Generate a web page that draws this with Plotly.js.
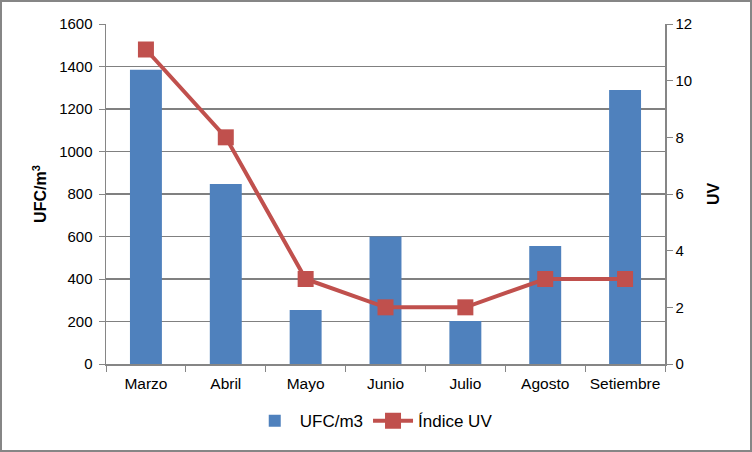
<!DOCTYPE html>
<html>
<head>
<meta charset="utf-8">
<script src="https://cdn.plot.ly/plotly-3.0.1.min.js"></script>
<style>
html,body{margin:0;padding:0;background:#fff;}
#wrap{position:relative;width:752px;height:452px;}
#chart{width:752px;height:452px;}
#frame{position:absolute;left:0;top:0;width:752px;height:452px;box-sizing:border-box;border:2px solid #868686;pointer-events:none;}
</style>
</head>
<body>
<div id="wrap"><div id="chart"></div><div id="frame"></div></div>
<script>
var months = ["Marzo","Abril","Mayo","Junio","Julio","Agosto","Setiembre"];
var ufc = [1385, 847, 254, 600, 202, 555, 1290];
var uv = [11.1, 8, 3, 2, 2, 3, 3];
var leftTicks = [0,200,400,600,800,1000,1200,1400,1600];
var rightTicks = [0,2,4,6,8,10,12];

var font = {family: "Liberation Sans, Arial, sans-serif", size: 15, color: "#000"};

var traces = [
  {type: "bar", x: months, y: ufc, name: "UFC/m3", marker: {color: "#4F81BD"}, yaxis: "y"},
  {type: "scatter", mode: "lines+markers", x: months, y: uv, name: "Índice UV", yaxis: "y2",
   line: {color: "#C0504D", width: 4}, marker: {symbol: "square", size: 16, color: "#C0504D"}}
];

var layout = {
  width: 752, height: 452,
  margin: {l: 106, r: 87, t: 24, b: 88},
  paper_bgcolor: "#fff", plot_bgcolor: "#fff",
  font: font,
  bargap: 0.6,
  showlegend: true,
  legend: {orientation: "h", xref: "container", yref: "container", x: 0.497, xanchor: "center",
           y: 0.068, yanchor: "middle", font: {family: font.family, size: 17}, traceorder: "normal",
           itemwidth: 40},
  xaxis: {type: "category", showline: true, linecolor: "#868686", linewidth: 1.5,
          ticks: "outside", tickson: "boundaries", ticklen: 6, tickcolor: "#868686",
          tickfont: {size: 15.5}, showgrid: false, ticklabelstandoff: 5},
  yaxis: {range: [0, 1600], tickvals: leftTicks, ticktext: leftTicks.map(String),
          showline: true, linecolor: "#868686", linewidth: 1.5, ticks: "outside", ticklen: 6,
          tickcolor: "#868686", showgrid: true, gridcolor: "#808080", gridwidth: 1.3,
          zeroline: false, tickfont: {size: 15}, ticklabelstandoff: 3,
          title: {text: "UFC/m<sup>3</sup>", font: {size: 16, weight: "bold"}, standoff: 8}},
  yaxis2: {range: [0, 12], tickvals: rightTicks, ticktext: rightTicks.map(String), overlaying: "y",
           side: "right", showline: true, linecolor: "#868686", linewidth: 1.5, ticks: "outside",
           ticklen: 6, tickcolor: "#868686", showgrid: false, zeroline: false, tickfont: {size: 15},
           title: {text: "UV", font: {size: 16, weight: "bold"}, standoff: 16}}
};

Plotly.newPlot("chart", traces, layout, {displayModeBar: false, staticPlot: true});
</script>
</body>
</html>
